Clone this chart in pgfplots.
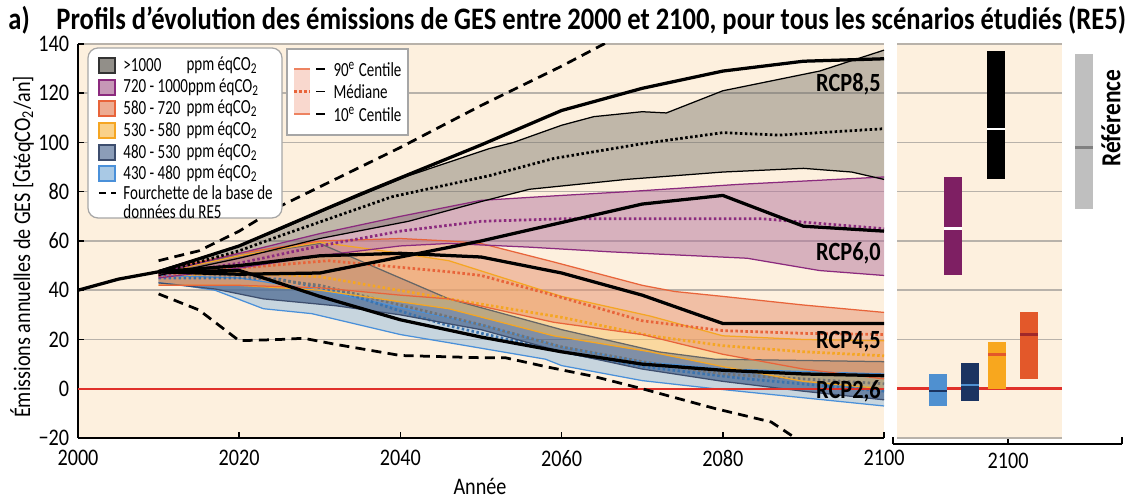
\documentclass[border=0pt]{standalone}
\usepackage{fontspec}
\setmainfont{Carlito}[FakeStretch=0.85]
\newfontfamily\legfont{Carlito}[FakeStretch=0.75]
\usepackage{pgfplots}
\pgfplotsset{compat=1.18}
\usepgfplotslibrary{fillbetween}

\definecolor{peach}{HTML}{FDF0DE}
\definecolor{gridc}{HTML}{B8B2AA}
\definecolor{f1000}{HTML}{6E6A62}
\definecolor{fpur}{HTML}{B3749E}
\definecolor{lpur}{HTML}{8B2A7E}
\definecolor{fsal}{HTML}{E7906E}
\definecolor{lsal}{HTML}{E8643A}
\definecolor{fyel}{HTML}{F9C262}
\definecolor{lyel}{HTML}{F5A623}
\definecolor{fnav}{HTML}{3E5C88}
\definecolor{lnav}{HTML}{3D4E6E}
\definecolor{fblu}{HTML}{93BCDE}
\definecolor{lblu}{HTML}{4A90D9}
\definecolor{zero}{HTML}{E0312A}
\definecolor{bblu}{HTML}{4F90D0}
\definecolor{bnav}{HTML}{1B3461}
\definecolor{byel}{HTML}{F8A71E}
\definecolor{bora}{HTML}{E3582A}
\definecolor{bred}{HTML}{A0282A}
\definecolor{bpur}{HTML}{7E1F63}

\pgfplotsset{
  med/.style={dash pattern=on 1pt off 1pt, line width=1.1pt},
  rcp/.style={black, line width=1.3pt},
  edge/.style={line width=0.5pt},
}

\begin{document}
\begin{tikzpicture}[font=\fontsize{9.5}{11}\selectfont]
\begin{axis}[at={(0pt,0pt)}, anchor=south west,
  width=322.4pt, height=157.6pt, scale only axis, set layers,
  xmin=2000, xmax=2100, ymin=-20, ymax=140,
  xtick={2000,2020,...,2100}, ytick={-20,0,...,140},
  yticklabels={−20,0,20,40,60,80,100,120,140},
  xticklabel style={/pgf/number format/1000 sep=, yshift=-1.5pt},
  /pgf/number format/assume math mode=true,
  axis x line*=bottom, axis y line*=left,
  axis line style={line width=1pt},
  tick align=inside, major tick length=2.5pt, tick style={black, line width=0.6pt},
  ymajorgrids, grid style={color=gridc, line width=0.6pt},
  axis background/.style={fill=peach},
  ticklabel style={font=\fontsize{9.5}{11}\selectfont},
]
% 430-480 ppm
\addplot[name path=u6, lblu, edge] coordinates {(2010,46)(2020,45)(2030,40)(2040,33)(2050,26)(2060,17)(2070,11)(2080,8)(2090,7)(2100,6)};
\addplot[name path=l6, lblu, edge] coordinates {(2010,43)(2013,42)(2017,40)(2023,32.5)(2029,30.5)(2040,22)(2046,18.7)(2058,12)(2060,9.4)(2070,3.3)(2079,0)(2100,-7)};
\addplot[fill=fblu, fill opacity=0.5] fill between[of=u6 and l6];
\addplot[lblu!80!black, med] coordinates {(2010,45)(2020,45)(2025,44.5)(2033,39)(2041,30.5)(2046,25.6)(2060,15)(2070,9)(2083,4)(2100,-1)};
% 480-530 ppm
\addplot[name path=u5, black!60, edge] coordinates {(2010,48)(2020,54)(2030,59)(2046,36.5)(2060,24)(2072,15)(2079,12)(2100,11)};
\addplot[name path=l5, lnav, edge] coordinates {(2010,43)(2017,40.5)(2023,36.5)(2032,33.7)(2040,30)(2050,24)(2060,15)(2070,8)(2080,3)(2090,-1)(2100,-4.5)};
\addplot[fill=fnav, fill opacity=0.65] fill between[of=u5 and l5];
\addplot[black!55, med] coordinates {(2010,47)(2020,46)(2030,42)(2040,34)(2050,26)(2060,17)(2070,11)(2080,6)(2090,4)(2100,2)};
% 530-580 ppm
\addplot[name path=u4, lyel, edge] coordinates {(2010,47)(2020,54)(2030,59.5)(2040,55)(2046,52)(2060,37.5)(2071,29.5)(2080,21.5)(2090,20)(2100,19.5)};
\addplot[name path=l4, lyel, edge] coordinates {(2010,42)(2020,42)(2030,40)(2046,32.5)(2059,21.5)(2071,15)(2080,9)(2090,3)(2100,0)};
\addplot[fill=fyel, fill opacity=0.5] fill between[of=u4 and l4];
\addplot[lyel, med] coordinates {(2010,46)(2020,47)(2030,45.5)(2046,36.5)(2060,29)(2071,21.5)(2080,17.5)(2090,15)(2100,13.4)};
% 580-720 ppm
\addplot[name path=u3, lsal, edge] coordinates {(2010,48)(2020,55)(2030,60)(2040,61)(2046,60)(2050,59)(2059,51.5)(2070,42)(2074,39.5)(2080,37.5)(2090,34)(2100,31)};
\addplot[name path=l3, lsal, edge] coordinates {(2010,42)(2020,42)(2030,41)(2040,38)(2046,36.5)(2059,27)(2070,22)(2080,14)(2090,8)(2100,4)};
\addplot[fill=fsal, fill opacity=0.5] fill between[of=u3 and l3];
\addplot[lsal, med] coordinates {(2010,46)(2020,49)(2031,52)(2046,47.5)(2050,46)(2059,38)(2070,27.6)(2080,23.6)(2090,22.5)(2100,22)};
% 720-1000 ppm
\addplot[name path=u2, lpur, edge] coordinates {(2010,47)(2020,55)(2030,63)(2040,70)(2050,76.5)(2060,78.5)(2068,80)(2082,83)(2100,86)};
\addplot[name path=l2, lpur, edge] coordinates {(2010,45)(2020,49)(2030,54)(2040,58)(2046,59)(2056,57.5)(2066,55.6)(2083,53)(2092,48)(2100,46)};
\addplot[fill=fpur, fill opacity=0.5] fill between[of=u2 and l2];
\addplot[lpur, med] coordinates {(2010,46)(2020,51)(2030,58)(2040,64)(2050,68)(2060,69)(2070,69)(2085,69)(2100,65)};
% >1000 ppm
\addplot[name path=u1, black, edge] coordinates {(2010,48)(2020,58)(2025,64.5)(2031,73)(2041,86.5)(2051,97.5)(2054,100)(2060,107)(2064,110.5)(2070,112.5)(2073,112)(2080,121)(2086,125)(2092,129)(2100,137.5)};
\addplot[name path=l1, black, edge] coordinates {(2010,46)(2020,53)(2030,61)(2041,68)(2050,76)(2056,81)(2068,85)(2080,88)(2090,89.5)(2096,88)(2100,85)};
\addplot[fill=f1000, fill opacity=0.42] fill between[of=u1 and l1];
\addplot[black, med] coordinates {(2010,47)(2020,56)(2025,62)(2039,78)(2051,86.5)(2059,93.5)(2070,99.5)(2080,104)(2087,103)(2100,105.6)};
% zero line
\addplot[zero, line width=0.9pt] coordinates {(2000,0)(2100,0)};
% database range
\addplot[black, line width=1.1pt, dash pattern=on 4pt off 2.5pt] coordinates {(2010,52)(2015,56)(2020,64)(2025,74)(2030,82)(2040,98)(2050,115)(2060,131)(2067,143)};
\addplot[black, line width=1.1pt, dash pattern=on 4pt off 2.5pt] coordinates {(2010,38.5)(2015,32)(2020,19.5)(2025,20)(2028,20.5)(2032,18)(2040,13.5)(2050,12.6)(2053,12.6)(2058,9)(2064,5)(2070,0)(2079,-8)(2086,-13.5)(2089,-20)};
% historical and RCP
\addplot[rcp] coordinates {(2000,40)(2005,44.5)(2010,47.5)};
\addplot[rcp] coordinates {(2010,47.5)(2020,58)(2025,65)(2035,79)(2050,99)(2060,113)(2070,122)(2080,129)(2090,133)(2100,134)};
\addplot[rcp] coordinates {(2010,47.5)(2020,46.5)(2030,47)(2040,53.5)(2050,60)(2060,67.5)(2070,75)(2080,78.5)(2090,66)(2100,64)};
\addplot[rcp] coordinates {(2010,47.5)(2020,50)(2030,54)(2040,55)(2050,53.5)(2060,47)(2070,38)(2080,26.5)(2100,26.5)};
\addplot[rcp] coordinates {(2010,47.5)(2020,48)(2023,45)(2030,37.5)(2040,28)(2050,21)(2060,15)(2070,10)(2080,7.5)(2090,6)(2100,5.3)};
\begin{scope}[every node/.style={anchor=east, font=\bfseries\fontsize{10.5}{12}\selectfont, inner sep=0.5pt}]
\node at (axis cs:2099.8,123.5) {RCP8,5};
\node at (axis cs:2099.8,55) {RCP6,0};
\node at (axis cs:2099.8,19) {RCP4,5};
\node at (axis cs:2099.8,-1) {RCP2,6};
\end{scope}
\end{axis}

\begin{axis}[at={(326pt,-2.4pt)}, anchor=south west,
  width=91.6pt, height=160pt, scale only axis,
  xmin=893, xmax=1122, ymin=-22.5, ymax=140,
  axis y line=none, axis x line*=bottom,
  axis line style={line width=1pt},
  xtick={893,1008,1122}, xticklabels={,2100,},
  tick align=inside, major tick length=3pt, tick style={black, line width=0.8pt},
  ticklabel style={font=\fontsize{9.5}{11}\selectfont},
  clip=false,
]
\addplot[fill=peach, draw=none] coordinates {(897,-20)(1062,-20)(1062,140)(897,140)} -- cycle;
\pgfplotsinvokeforeach{-20,0,20,40,60,80,100,120,140}{
  \addplot[gridc, line width=0.6pt] coordinates {(897,#1)(1062,#1)};
}
\addplot[zero, line width=0.9pt] coordinates {(897,0)(1062,0)};
% 430-480
\addplot[fill=bblu, draw=none] coordinates {(929,-7)(947,-7)(947,6)(929,6)} -- cycle;
\addplot[bnav, line width=1.1pt] coordinates {(929,-1)(947,-1)};
% 480-530
\addplot[fill=bnav, draw=none] coordinates {(961,-5)(979,-5)(979,10.5)(961,10.5)} -- cycle;
\addplot[bblu, line width=1.1pt] coordinates {(961,1.5)(979,1.5)};
% 530-580
\addplot[fill=byel, draw=none] coordinates {(988,0)(1006,0)(1006,19)(988,19)} -- cycle;
\addplot[bora, line width=1.1pt] coordinates {(988,14)(1006,14)};
% 580-720
\addplot[fill=bora, draw=none] coordinates {(1020,4)(1038,4)(1038,31)(1020,31)} -- cycle;
\addplot[bred, line width=1.1pt] coordinates {(1020,22)(1038,22)};
% 720-1000
\addplot[fill=bpur, draw=none] coordinates {(944,46)(962,46)(962,86)(944,86)} -- cycle;
\addplot[white, line width=1.1pt] coordinates {(944,65)(962,65)};
% >1000
\addplot[fill=black, draw=none] coordinates {(987,85)(1005,85)(1005,137)(987,137)} -- cycle;
\addplot[white, line width=1.1pt] coordinates {(987,105.5)(1005,105.5)};
% reference
\addplot[fill=black!25, draw=none] coordinates {(1075,73)(1093,73)(1093,136)(1075,136)} -- cycle;
\addplot[black!50, line width=1.1pt] coordinates {(1075,98)(1093,98)};
\end{axis}

\begin{scope}[x=0.4pt, y=-0.4pt, shift={(-31.2pt,175.2pt)}]
% title
\node[anchor=west, font=\bfseries\fontsize{12.5}{14}\selectfont, inner sep=0pt] at (8,20) {a)};
\node[anchor=west, font=\bfseries\fontsize{12.5}{14}\selectfont, inner sep=0pt] at (56,20) {Profils d'évolution des émissions de GES entre 2000 et 2100, pour tous les scénarios étudiés (RE5)};
% axis titles
\node[rotate=90, inner sep=0pt] at (22,247) {Émissions annuelles de GES [GtéqCO\textsubscript{2}/an]};
\node[inner sep=0pt, anchor=south] at (480,495) {Année};
\node[rotate=90, font=\bfseries\fontsize{11}{12}\selectfont, inner sep=0pt] at (1111,118) {Référence};
% legend 1
\draw[black!35, fill=white, line width=0.5pt, rounded corners=4pt] (88,48) rectangle (282,218);
\begin{scope}[every node/.style={anchor=west, inner sep=0pt, font=\legfont\fontsize{8}{10}\selectfont}]
\filldraw[fill=f1000!75, draw=black!80, line width=0.6pt] (99,58) rectangle (115,73);
\node at (123,65) {>1000}; \node at (186,65) {ppm éqCO\textsubscript{2}};
\filldraw[fill=fpur!75, draw=lpur, line width=0.6pt] (99,80) rectangle (115,95);
\node at (123,87) {720 - 1000ppm éqCO\textsubscript{2}};
\filldraw[fill=fsal!75, draw=lsal, line width=0.6pt] (99,101) rectangle (115,116);
\node at (123,108) {580 - 720}; \node at (186,108) {ppm éqCO\textsubscript{2}};
\filldraw[fill=fyel!75, draw=lyel, line width=0.6pt] (99,123) rectangle (115,138);
\node at (123,130) {530 - 580}; \node at (186,130) {ppm éqCO\textsubscript{2}};
\filldraw[fill=fnav!60, draw=lnav, line width=0.6pt] (99,145) rectangle (115,160);
\node at (123,152) {480 - 530}; \node at (186,152) {ppm éqCO\textsubscript{2}};
\filldraw[fill=fblu!80, draw=lblu, line width=0.6pt] (99,166) rectangle (115,181);
\node at (123,173) {430 - 480}; \node at (186,173) {ppm éqCO\textsubscript{2}};
\draw[black, line width=1.1pt, dash pattern=on 3pt off 2pt] (99,193) -- (116,193);
\node at (123,193) {Fourchette de la base de};
\node at (123,212) {données du RE5};
\end{scope}
% legend 2
\draw[black!35, fill=white, line width=0.5pt] (287,49) rectangle (408,135);
\fill[lsal!25] (294,69) rectangle (310,114);
\draw[lsal!80, line width=0.6pt] (294,69) -- (310,69) (294,114) -- (310,114);
\draw[lsal, line width=0.9pt, dash pattern=on 1pt off 1pt] (294,91.5) -- (310,91.5);
\draw[black, line width=0.6pt] (316,69) -- (325,69) (316,91.5) -- (325,91.5) (316,114) -- (325,114);
\begin{scope}[every node/.style={anchor=west, inner sep=0pt, font=\legfont\fontsize{8}{10}\selectfont}]
\node at (333,69) {90\textsuperscript{e} Centile};
\node at (333,91.5) {Médiane};
\node at (333,114) {10\textsuperscript{e} Centile};
\end{scope}
\pgfresetboundingbox
\path[use as bounding box] (0,0) rectangle (1125,497);
\end{scope}
\end{tikzpicture}
\end{document}
